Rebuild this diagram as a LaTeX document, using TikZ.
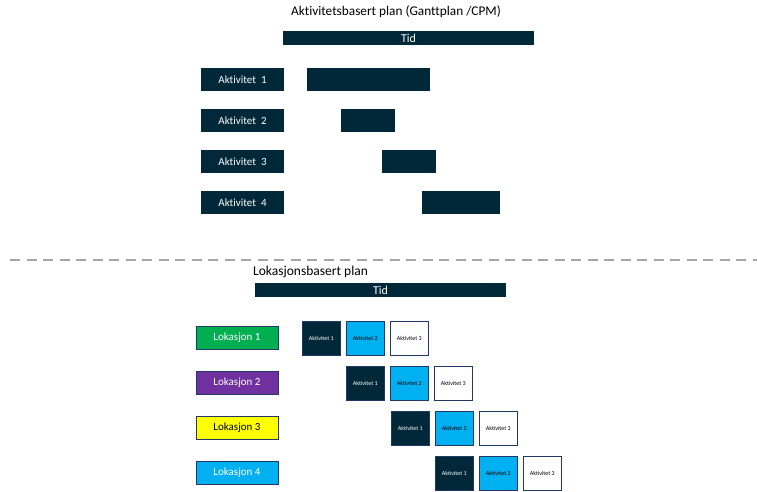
\documentclass[tikz,border=0pt]{standalone}
\usepackage{fontspec}
\setmainfont{Carlito}[Ligatures={NoCommon}]
\definecolor{navy}{HTML}{002838}
\definecolor{lblue}{HTML}{00B0F0}
\definecolor{lgreen}{HTML}{00B050}
\definecolor{lpurple}{HTML}{7030A0}
\definecolor{lyellow}{HTML}{FFFF00}
\definecolor{edge}{HTML}{1F3864}
\definecolor{dashgray}{HTML}{A6A6A6}
\begin{document}
\begin{tikzpicture}[x=1pt,y=-1pt,
  bar/.style={fill=navy,draw=none},
  lok/.style={draw=edge,line width=0.8pt},
  sq/.style={draw=edge,line width=0.6pt,font=\fontsize{6}{7}\selectfont,minimum width=38pt,minimum height=34pt,inner sep=0pt,anchor=north west},
  sqa/.style={sq,fill=navy,text=white},
  sqb/.style={sq,fill=lblue,text=black},
  sqc/.style={sq,fill=white,text=black}]
\useasboundingbox (0,0) rectangle (757,492);
% top
\node[font=\fontsize{13.3}{15}\selectfont] (t1) at (396,12) {Aktivitetsbasert plan (Ganttplan /CPM)};
\path[bar] (283,31) rectangle (534,45);
\node[text=white,font=\fontsize{12}{14}\selectfont] (tid1) at (408.5,38) {Tid};
\foreach \i/\y in {1/68,2/109,3/150,4/191}{
  \path[fill=navy] (201,\y) rectangle (284,\y+23);
  \node[text=white,font=\fontsize{11}{13}\selectfont] (a\i) at (242.5,\y+11.5) {Aktivitet\ \ \i};
}
\path[bar] (307,68) rectangle (430,91);
\path[bar] (341,109) rectangle (395,132);
\path[bar] (382,150) rectangle (436,173);
\path[bar] (422,191) rectangle (500,214);
% dashed separator
\draw[dashgray,line width=2pt,dash pattern=on 10pt off 6.5pt] (10,260) -- (757,260);
% bottom
\node[font=\fontsize{13.5}{15}\selectfont,anchor=west,inner sep=0pt] (t2) at (253,272) {Lokasjonsbasert plan};
\path[fill=navy] (255,283) rectangle (506,297);
\node[text=white,font=\fontsize{12}{14}\selectfont] (tid2) at (380.5,290) {Tid};
\foreach \i/\y/\c/\tc in {1/326/lgreen/white,2/371/lpurple/white,3/416/lyellow/black,4/461/lblue/white}{
  \path[lok,fill=\c] (196,\y) rectangle (278,\y+23);
  \node[text=\tc,font=\fontsize{11}{13}\selectfont] (l\i) at (237,\y+11.5) {Lokasjon\ \i};
}
\foreach \i/\x/\y in {1/302/321,2/346/366,3/391/411,4/435/456}{
  \node[sqa] (s\i a) at (\x,\y) {Aktivitet 1};
  \node[sqb] (s\i b) at (\x+44,\y) {Aktivitet 2};
  \node[sqc] (s\i c) at (\x+88,\y) {Aktivitet 3};
}
\end{tikzpicture}
\end{document}
